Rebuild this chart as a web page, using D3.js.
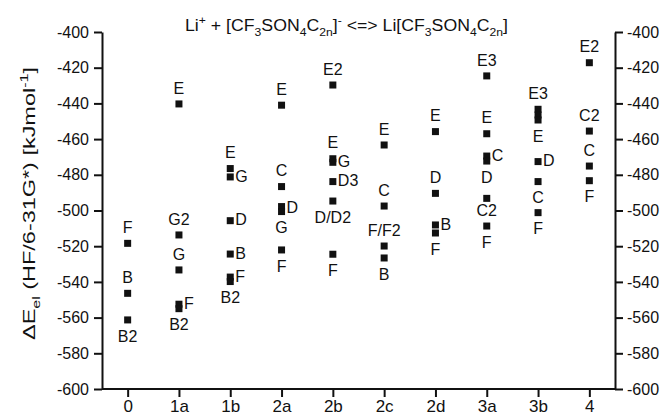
<!DOCTYPE html>
<html>
<head>
<meta charset="utf-8">
<script src="https://cdn.jsdelivr.net/npm/d3@7"></script>
<style>
  html, body { margin: 0; padding: 0; background: #fff; }
  svg { display: block; }
  text { font-family: Arial, "Liberation Sans", Helvetica, sans-serif; fill: #111; }
</style>
</head>
<body>
<svg id="chart" width="669" height="417"></svg>
<script>
// ---- data ----
const categories = ["0", "1a", "1b", "2a", "2b", "2c", "2d", "3a", "3b", "4"];
const energies = [
  [-518.4, -546.4, -561.3],
  [-440.3, -513.7, -533.3, -552.5, -555.0],
  [-476.5, -481.2, -505.7, -524.4, -537.3, -539.8],
  [-441.0, -486.6, -497.8, -500.6, -522.1],
  [-429.7, -471.0, -473.0, -483.8, -494.7, -524.5],
  [-463.3, -497.5, -519.9, -526.6],
  [-455.8, -490.4, -508.1, -512.6],
  [-424.6, -457.0, -469.5, -472.3, -493.2, -508.7],
  [-443.3, -446.5, -449.3, -472.6, -483.8, -501.2],
  [-417.2, -455.5, -475.1, -483.3]
];
// labels: category, text, value of the labelled point
const labelCategory = ["0","0","0",
  "1a","1a","1a","1a","1a",
  "1b","1b","1b","1b","1b","1b",
  "2a","2a","2a","2a","2a",
  "2b","2b","2b","2b","2b","2b",
  "2c","2c","2c","2c",
  "2d","2d","2d","2d",
  "3a","3a","3a","3a","3a","3a",
  "3b","3b","3b","3b","3b",
  "4","4","4","4"];
const labelText = ["F","B","B2",
  "E","G2","G","F","B2",
  "E","G","D","B","F","B2",
  "E","C","D","G","F",
  "E2","E","G","D3","D/D2","F",
  "E","C","F/F2","B",
  "E","D","B","F",
  "E3","E","C","D","C2","F",
  "E3","E","D","C","F",
  "E2","C2","C","F"];
const labelValue = [-518.4,-546.4,-561.3,
  -440.3,-513.7,-533.3,-552.5,-555.0,
  -476.5,-481.2,-505.7,-524.4,-537.3,-539.8,
  -441.0,-486.6,-498.5,-500.6,-522.1,
  -429.7,-471.0,-473.0,-483.8,-494.7,-524.5,
  -463.3,-497.5,-519.9,-526.6,
  -455.8,-490.4,-508.1,-512.6,
  -424.6,-457.0,-469.5,-472.3,-508.7,-508.7,
  -443.3,-449.3,-472.6,-483.8,-501.2,
  -417.2,-455.5,-475.1,-483.3];
// label placement relative to its point: a = above, b = below, r = right
const labelPlace = ["a","a","b",
  "a","a","a","r","b",
  "a","r","r","r","r","b",
  "a","a","r","b","b",
  "a","a","r","r","b","b",
  "a","a","a","b",
  "a","a","r","b",
  "a","a","r","b","a","b",
  "a","b","r","b","b",
  "a","a","a","b"];
const yTicks = [-600,-580,-560,-540,-520,-500,-480,-460,-440,-420,-400];

// ---- layout ----
const svg = d3.select("#chart");
const mLeft = 102, mRight = 615, mTop = 32, mBottom = 389;

const x = d3.scalePoint().domain(categories).range([mLeft, mRight]).padding(0.5);
const y = d3.scaleLinear().domain([-600, -400]).range([mBottom, mTop]);

function styleAxis(g, fs) {
  g.selectAll("path.domain").attr("stroke", "#111").attr("stroke-width", 2);
  g.selectAll(".tick line").attr("stroke", "#111").attr("stroke-width", 2);
  g.selectAll(".tick text").style("font-size", fs + "px").attr("fill", "#222")
    .style("font-family", 'Arial, "Liberation Sans", sans-serif');
}
const fmt = d => String(d);

const gL = svg.append("g").attr("transform", `translate(${mLeft},0)`)
  .call(d3.axisLeft(y).tickValues(yTicks).tickFormat(fmt).tickSize(8).tickSizeOuter(0).tickPadding(5));
styleAxis(gL, 16);
const gR = svg.append("g").attr("transform", `translate(${mRight},0)`)
  .call(d3.axisRight(y).tickValues(yTicks).tickFormat(fmt).tickSize(8).tickSizeOuter(0).tickPadding(4));
styleAxis(gR, 16);
const gB = svg.append("g").attr("transform", `translate(0,${mBottom})`)
  .call(d3.axisBottom(x).tickSize(8).tickSizeOuter(0).tickPadding(3));
styleAxis(gB, 17);
gB.select("path.domain").attr("d", `M${mLeft},0H${mRight}`);

// ---- points ----
const pts = [];
categories.forEach((c, i) => energies[i].forEach(v => pts.push({c, v})));
const sq = 7;
svg.append("g").selectAll("rect").data(pts).join("rect")
  .attr("x", d => x(d.c) - sq / 2)
  .attr("y", d => y(d.v) - sq / 2)
  .attr("width", sq).attr("height", sq)
  .attr("fill", "#111");

// ---- point labels ----
const labels = labelText.map((t, i) => ({t, c: labelCategory[i], v: labelValue[i], p: labelPlace[i]}));
svg.append("g").selectAll("text").data(labels).join("text")
  .attr("x", d => d.p === "r" ? x(d.c) + 5 : x(d.c))
  .attr("y", d => {
    const cy = y(d.v);
    const center = d.p === "a" ? cy - 16 : d.p === "b" ? cy + 16 : cy - 1;
    return center + 5.7;
  })
  .attr("text-anchor", d => d.p === "r" ? "start" : "middle")
  .style("font-size", "16px")
  .text(d => d.t);

// ---- title ----
const title = svg.append("text").attr("x", 185).attr("y", 31)
  .style("font-size", "16px")
  .attr("textLength", 323).attr("lengthAdjust", "spacingAndGlyphs");
const parts = [
  ["Li", 0], ["+", -1], [" + [CF", 0], ["3", 1], ["SON", 0], ["4", 1], ["C", 0], ["2n", 1], ["]", 0], ["-", -1],
  [" <=> Li[CF", 0], ["3", 1], ["SON", 0], ["4", 1], ["C", 0], ["2n", 1], ["]", 0]
];
function addParts(textSel, arr, small) {
  let cur = 0;
  arr.forEach(([s, k]) => {
    const target = k === 1 ? 5 : k === -1 ? -7 : 0;
    textSel.append("tspan").attr("dy", target - cur)
      .style("font-size", k === 0 ? null : small + "px").text(s);
    cur = target;
  });
}
addParts(title, parts, 11);

// ---- y axis title ----
const yt = svg.append("text")
  .attr("transform", "translate(35,340) rotate(-90)")
  .attr("x", 0).attr("y", 0)
  .style("font-size", "16px")
  .attr("textLength", 273).attr("lengthAdjust", "spacingAndGlyphs");
addParts(yt, [["\u0394E", 0], ["el", 1], [" (HF/6-31G*) [kJmol", 0], ["-1", -1], ["]", 0]], 11);
</script>
</body>
</html>
